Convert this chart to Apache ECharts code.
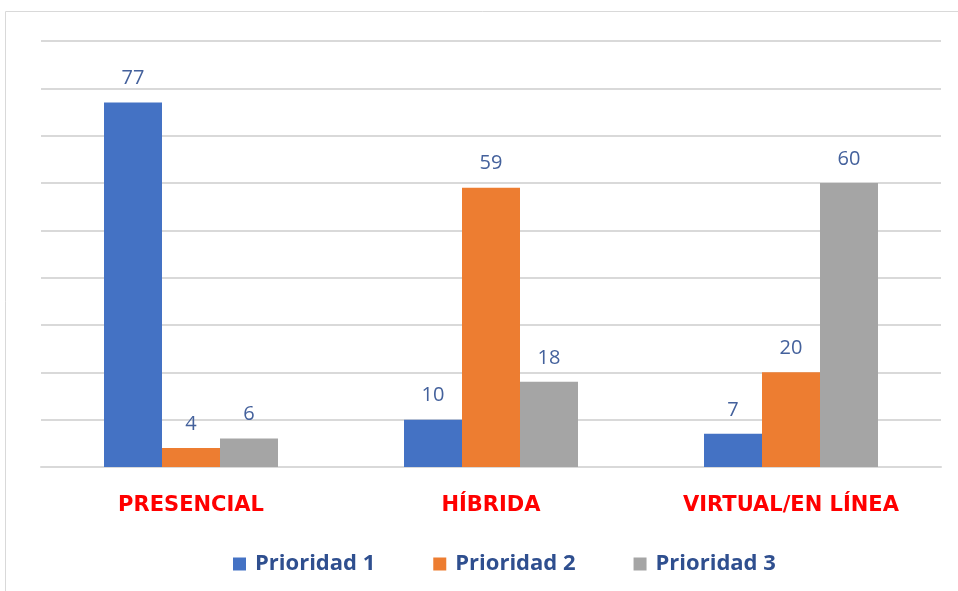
<!DOCTYPE html>
<html>
<head>
<meta charset="utf-8">
<script src="https://cdn.jsdelivr.net/npm/echarts@6/dist/echarts.min.js"></script>
<style>
  html, body { margin: 0; padding: 0; background: #fff; }
  #chart { width: 958px; height: 591px; }
</style>
</head>
<body>
<div id="chart"></div>
<script>
const categories = ["PRESENCIAL", "HÍBRIDA", "VIRTUAL/EN LÍNEA"];
const prioridad1 = [77, 10, 7];
const prioridad2 = [4, 59, 20];
const prioridad3 = [6, 18, 60];

const chart = echarts.init(document.getElementById("chart"));

const labelStyle = {
  show: true,
  position: "top",
  distance: 14,
  color: "#44619c",
  fontSize: 20,
  fontFamily: "Open Sans",
};

const option = {
  animation: false,
  graphic: [
    {
      type: "rect",
      shape: { x: 5.5, y: 11.5, width: 960, height: 590 },
      style: { fill: "none", stroke: "#d9d9d9", lineWidth: 1 },
    },
  ],
  legend: {
    bottom: 11,
    left: 228,
    itemWidth: 13,
    itemHeight: 13,
    itemGap: 58,
    icon: "rect",
    textStyle: {
      color: "#2f4f8f",
      fontSize: 22,
      fontWeight: "bold",
      fontFamily: "Open Sans",
      padding: [0, 0, 0, 4],
    },
  },
  grid: { left: 41, right: 17, top: 41, bottom: 124 },
  xAxis: {
    type: "category",
    data: categories,
    axisTick: { show: false },
    axisLine: { lineStyle: { color: "#d9d9d9", width: 2 } },
    axisLabel: {
      color: "#ff0000",
      fontSize: 21,
      fontWeight: "bold",
      fontFamily: "DejaVu Sans",
      margin: 28,
    },
  },
  yAxis: {
    type: "value",
    min: 0,
    max: 90,
    interval: 10,
    axisLabel: { show: false },
    axisLine: { show: false },
    axisTick: { show: false },
    splitLine: { lineStyle: { color: "#d9d9d9", width: 2 } },
  },
  series: [
    {
      name: "Prioridad 1",
      type: "bar",
      data: prioridad1,
      itemStyle: { color: "#4472c4" },
      barGap: "0%",
      barCategoryGap: "42%",
      label: labelStyle,
    },
    {
      name: "Prioridad 2",
      type: "bar",
      data: prioridad2,
      itemStyle: { color: "#ed7d31" },
      label: labelStyle,
    },
    {
      name: "Prioridad 3",
      type: "bar",
      data: prioridad3,
      itemStyle: { color: "#a5a5a5" },
      label: labelStyle,
    },
  ],
};

chart.setOption(option);
</script>
</body>
</html>
